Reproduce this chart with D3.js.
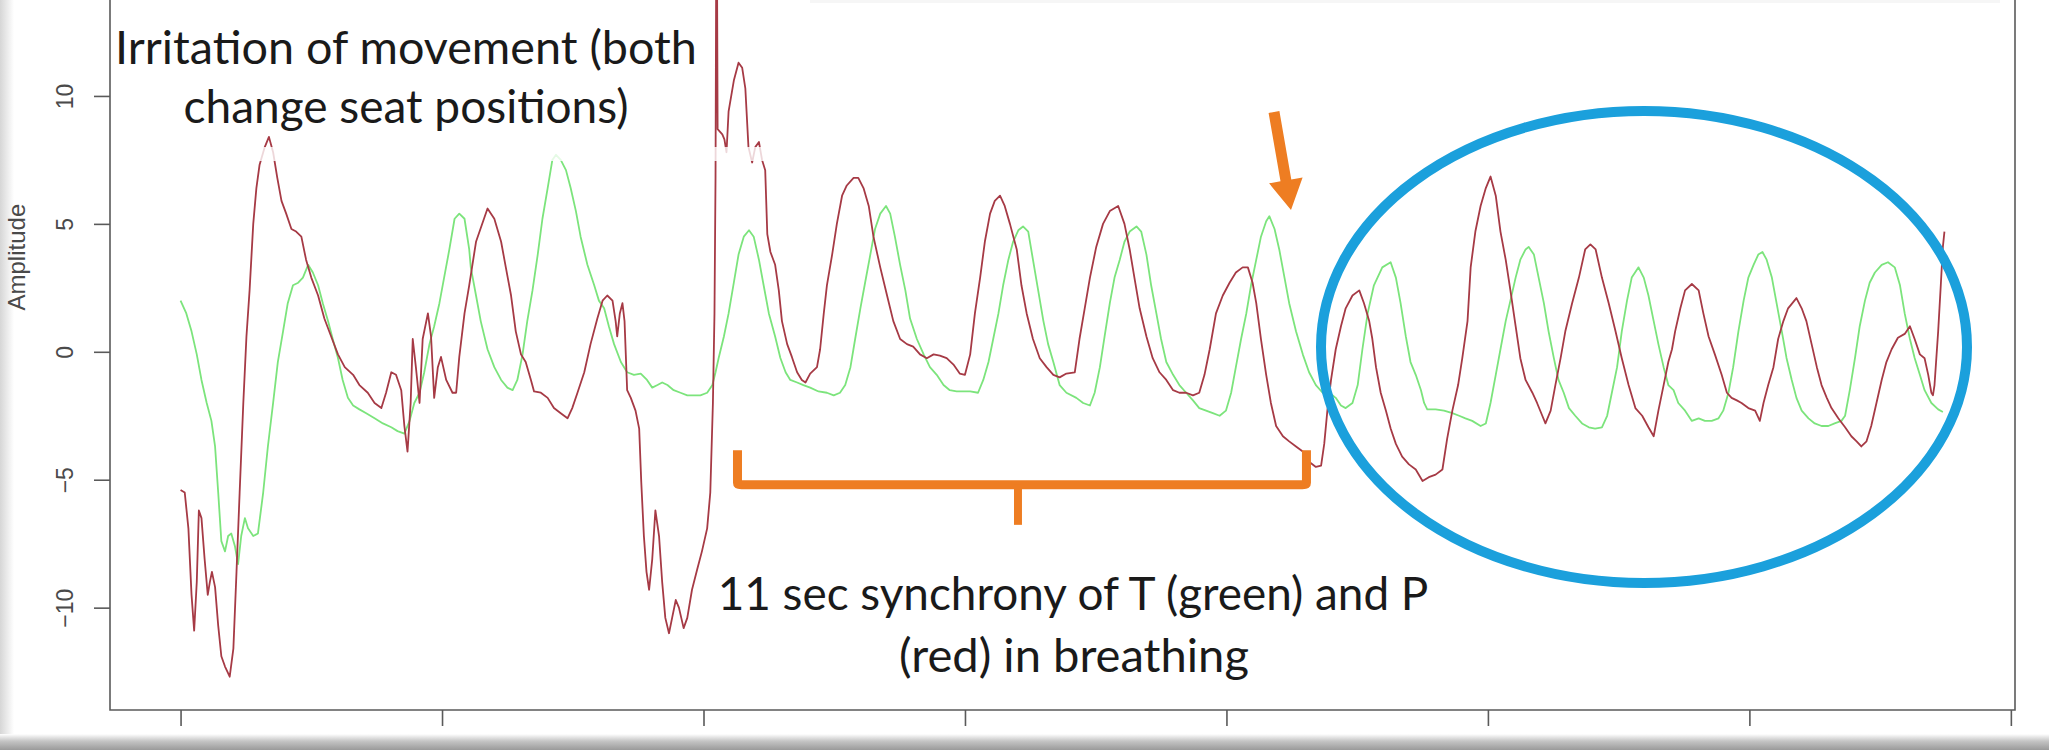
<!DOCTYPE html>
<html>
<head>
<meta charset="utf-8">
<script src="https://cdn.jsdelivr.net/npm/d3@7"></script>
<style>
  html, body { margin: 0; padding: 0; background: #fff; }
  svg { display: block; }
  .tick-label { font-family: "Liberation Sans", Arial, sans-serif; fill: #4a4a4a; }
  .note { font-family: Lato, "Open Sans", sans-serif; fill: #1a1a1a; }
</style>
</head>
<body>
<svg id="chart" width="2049" height="750"></svg>
<script>
// Breathing amplitude of T (green) and P (red), time in seconds
const xTicks = [0, 5, 10, 15, 20, 25, 30, 35];
const yTicks = [-10, -5, 0, 5, 10];
const yLabel = 'Amplitude';

// P (red): [time, amplitude]
const pSeries = [
  [0.00, -5.4], [0.08, -5.5], [0.15, -6.9], [0.21, -9.5], [0.26, -10.9], [0.31, -9.0], [0.35, -6.2],
  [0.40, -6.5], [0.46, -8.1], [0.52, -9.5], [0.56, -9.0], [0.60, -8.6], [0.66, -9.2], [0.72, -10.7],
  [0.78, -11.9], [0.85, -12.3], [0.94, -12.7], [1.01, -11.6], [1.07, -8.6], [1.13, -5.5], [1.20, -2.0],
  [1.26, 0.6], [1.32, 2.4], [1.39, 5.0], [1.45, 6.4], [1.51, 7.3], [1.61, 8.0], [1.69, 8.4], [1.77, 7.8],
  [1.85, 6.8], [1.93, 5.9], [2.02, 5.4], [2.12, 4.8], [2.21, 4.7], [2.31, 4.5], [2.40, 3.6], [2.50, 2.9],
  [2.63, 2.2], [2.75, 1.3], [2.88, 0.6], [3.01, -0.1], [3.14, -0.6], [3.30, -0.9], [3.42, -1.3],
  [3.58, -1.6], [3.71, -2.0], [3.84, -2.2], [3.93, -1.6], [4.03, -0.8], [4.12, -0.9], [4.22, -1.5],
  [4.28, -2.9], [4.34, -3.9], [4.40, -2.0], [4.44, 0.5], [4.50, -0.6], [4.57, -2.0], [4.63, 0.5],
  [4.73, 1.5], [4.79, 0.6], [4.85, -1.8], [4.92, -0.6], [4.98, -0.2], [5.08, -1.1], [5.20, -1.6],
  [5.27, -1.6], [5.33, -0.2], [5.43, 1.5], [5.52, 2.6], [5.65, 4.3], [5.87, 5.6], [6.00, 5.2],
  [6.13, 4.3], [6.22, 3.3], [6.32, 2.2], [6.41, 0.8], [6.51, -0.1], [6.60, -0.4], [6.70, -1.1],
  [6.76, -1.55], [6.89, -1.6], [7.02, -1.8], [7.14, -2.2], [7.27, -2.4], [7.40, -2.6], [7.49, -2.2],
  [7.59, -1.6], [7.72, -0.8], [7.84, 0.3], [7.97, 1.3], [8.07, 2.0], [8.16, 2.2], [8.26, 2.0],
  [8.32, 1.2], [8.35, 0.6], [8.40, 1.5], [8.45, 1.9], [8.49, 1.2], [8.54, -1.5], [8.61, -1.8],
  [8.70, -2.3], [8.77, -3.0], [8.81, -5.1], [8.86, -7.2], [8.91, -8.6], [8.96, -9.3], [9.02, -8.1],
  [9.08, -6.2], [9.15, -7.2], [9.21, -9.0], [9.27, -10.4], [9.34, -11.0], [9.40, -10.4], [9.47, -9.7],
  [9.53, -10.0], [9.62, -10.8], [9.69, -10.4], [9.78, -9.3], [9.88, -8.5], [9.97, -7.8], [10.07, -6.9],
  [10.13, -5.5], [10.18, -2.0], [10.21, 1.5], [10.23, 6.8], [10.25, 19.8], [10.27, 8.7], [10.36, 8.5],
  [10.40, 8.3], [10.44, 7.8], [10.48, 9.4], [10.58, 10.6], [10.67, 11.3], [10.74, 11.1], [10.80, 10.3],
  [10.86, 8.0], [10.93, 7.4], [10.99, 8.0], [11.06, 8.2], [11.12, 7.5], [11.18, 7.1], [11.22, 4.6],
  [11.28, 3.9], [11.37, 3.4], [11.44, 2.4], [11.50, 1.2], [11.60, 0.3], [11.69, -0.2], [11.79, -0.8],
  [11.88, -1.1], [11.95, -1.2], [12.04, -0.85], [12.17, -0.6], [12.23, 0.1], [12.30, 1.5], [12.36, 2.6],
  [12.46, 3.8], [12.55, 5.0], [12.65, 6.1], [12.74, 6.5], [12.87, 6.8], [12.96, 6.8], [13.06, 6.4],
  [13.16, 5.7], [13.25, 4.5], [13.38, 3.3], [13.51, 2.2], [13.63, 1.2], [13.76, 0.5], [13.89, 0.3],
  [14.01, 0.2], [14.14, -0.1], [14.27, -0.25], [14.40, -0.1], [14.52, -0.15], [14.65, -0.25],
  [14.78, -0.5], [14.90, -0.85], [15.00, -0.9], [15.10, -0.1], [15.19, 1.5], [15.29, 2.9], [15.38, 4.3],
  [15.48, 5.4], [15.57, 5.9], [15.67, 6.1], [15.76, 5.7], [15.86, 5.0], [15.99, 4.0], [16.08, 2.6],
  [16.18, 1.5], [16.30, 0.5], [16.43, -0.25], [16.56, -0.6], [16.69, -0.9], [16.81, -1.0], [16.94, -0.85],
  [17.10, -0.8], [17.19, 0.5], [17.29, 1.7], [17.39, 2.9], [17.51, 4.1], [17.64, 5.0], [17.77, 5.5],
  [17.93, 5.7], [18.05, 5.0], [18.15, 4.0], [18.24, 2.9], [18.34, 1.7], [18.47, 0.6], [18.59, -0.25],
  [18.72, -0.8], [18.85, -1.1], [18.98, -1.5], [19.10, -1.6], [19.23, -1.6], [19.36, -1.7], [19.48, -1.6],
  [19.58, -0.9], [19.68, 0.1], [19.80, 1.5], [19.93, 2.2], [20.06, 2.7], [20.18, 3.1], [20.31, 3.3],
  [20.41, 3.3], [20.50, 2.7], [20.57, 1.9], [20.66, 0.5], [20.76, -0.9], [20.85, -2.0], [20.95, -2.9],
  [21.08, -3.3], [21.20, -3.5], [21.33, -3.7], [21.46, -3.9], [21.58, -4.3], [21.71, -4.5], [21.81, -4.45],
  [21.87, -3.6], [21.93, -2.3], [22.00, -1.1], [22.09, 0.1], [22.19, 1.0], [22.28, 1.7], [22.41, 2.2],
  [22.54, 2.4], [22.63, 1.9], [22.73, 1.2], [22.79, 0.5], [22.86, -0.6], [22.95, -1.6], [23.05, -2.3],
  [23.14, -3.0], [23.24, -3.6], [23.36, -4.1], [23.49, -4.4], [23.62, -4.6], [23.75, -5.05], [23.87, -4.9],
  [24.00, -4.8], [24.13, -4.6], [24.22, -3.4], [24.32, -2.3], [24.43, -1.3], [24.51, -0.25], [24.61, 1.2],
  [24.67, 3.3], [24.76, 4.7], [24.86, 5.7], [24.96, 6.4], [25.05, 6.85], [25.15, 6.1], [25.24, 4.7],
  [25.34, 3.6], [25.43, 2.4], [25.53, 1.0], [25.62, -0.25], [25.72, -1.1], [25.85, -1.6], [25.94, -2.0],
  [26.04, -2.5], [26.10, -2.8], [26.20, -2.3], [26.29, -1.3], [26.39, -0.25], [26.48, 0.8], [26.61, 1.9],
  [26.74, 2.9], [26.86, 4.0], [26.96, 4.2], [27.06, 4.0], [27.18, 2.9], [27.31, 1.9], [27.44, 0.8],
  [27.56, -0.25], [27.69, -1.3], [27.82, -2.2], [27.95, -2.5], [28.07, -2.95], [28.17, -3.3], [28.26, -2.3],
  [28.36, -1.3], [28.45, -0.4], [28.52, 0.1], [28.58, 0.8], [28.68, 1.7], [28.77, 2.4], [28.90, 2.65],
  [29.03, 2.4], [29.12, 1.5], [29.22, 0.6], [29.34, -0.1], [29.47, -0.9], [29.57, -1.6], [29.66, -1.8],
  [29.76, -1.9], [29.85, -2.0], [29.98, -2.2], [30.11, -2.3], [30.20, -2.7], [30.27, -2.0], [30.36, -1.3],
  [30.46, -0.6], [30.55, 0.5], [30.65, 1.2], [30.74, 1.7], [30.90, 2.1], [31.00, 1.7], [31.09, 1.2],
  [31.19, 0.3], [31.29, -0.6], [31.38, -1.3], [31.48, -1.8], [31.57, -2.2], [31.70, -2.6], [31.83, -2.95],
  [31.95, -3.3], [32.05, -3.5], [32.14, -3.7], [32.24, -3.5], [32.33, -2.9], [32.43, -2.0], [32.53, -1.1],
  [32.62, -0.4], [32.72, 0.1], [32.84, 0.55], [32.97, 0.7], [33.07, 1.0], [33.16, 0.5], [33.26, -0.1],
  [33.35, -0.25], [33.42, -0.9], [33.48, -1.6], [33.51, -1.7], [33.54, -1.3], [33.61, 0.8], [33.66, 2.6],
  [33.70, 4.1], [33.73, 4.7],
];

// T (green): [time, amplitude]
const tSeries = [
  [0.00, 2.0], [0.11, 1.5], [0.21, 0.8], [0.31, -0.1], [0.40, -1.1], [0.50, -2.0], [0.59, -2.7],
  [0.66, -3.7], [0.72, -5.5], [0.78, -7.4], [0.85, -7.8], [0.91, -7.2], [0.97, -7.1], [1.04, -7.6],
  [1.10, -8.3], [1.16, -7.2], [1.23, -6.5], [1.29, -6.9], [1.39, -7.2], [1.48, -7.1], [1.58, -5.5],
  [1.67, -3.7], [1.77, -2.0], [1.86, -0.4], [1.96, 0.8], [2.05, 1.9], [2.15, 2.6], [2.25, 2.7],
  [2.34, 2.9], [2.44, 3.4], [2.53, 3.1], [2.63, 2.6], [2.72, 1.9], [2.82, 1.2], [2.91, 0.5], [3.01, -0.24],
  [3.10, -1.1], [3.20, -1.8], [3.30, -2.1], [3.42, -2.25], [3.55, -2.4], [3.71, -2.6], [3.87, -2.8],
  [4.03, -2.95], [4.15, -3.1], [4.28, -3.2], [4.38, -2.7], [4.47, -2.0], [4.57, -1.6], [4.66, -0.8],
  [4.76, 0.3], [4.85, 1.0], [4.95, 1.9], [5.04, 2.9], [5.14, 4.0], [5.24, 5.2], [5.33, 5.4], [5.43, 5.2],
  [5.52, 4.0], [5.55, 3.3], [5.65, 2.2], [5.74, 1.2], [5.87, 0.1], [6.00, -0.6], [6.13, -1.1],
  [6.25, -1.4], [6.35, -1.5], [6.44, -1.1], [6.54, -0.1], [6.63, 1.2], [6.73, 2.4], [6.83, 3.8],
  [6.92, 5.2], [7.02, 6.4], [7.11, 7.5], [7.18, 7.7], [7.27, 7.5], [7.37, 7.1], [7.46, 6.4], [7.56, 5.5],
  [7.65, 4.5], [7.78, 3.4], [7.91, 2.6], [8.00, 2.0], [8.10, 1.7], [8.19, 1.0], [8.29, 0.3], [8.42, -0.4],
  [8.54, -0.8], [8.67, -0.9], [8.80, -0.85], [8.92, -1.1], [9.02, -1.4], [9.12, -1.3], [9.21, -1.2],
  [9.31, -1.3], [9.43, -1.5], [9.56, -1.6], [9.69, -1.7], [9.82, -1.7], [9.94, -1.7], [10.07, -1.6],
  [10.17, -1.3], [10.23, -0.8], [10.29, -0.24], [10.39, 0.6], [10.48, 1.5], [10.58, 2.7], [10.67, 3.8],
  [10.77, 4.5], [10.87, 4.75], [10.96, 4.5], [11.06, 3.6], [11.15, 2.6], [11.25, 1.5], [11.37, 0.6],
  [11.47, -0.24], [11.57, -0.8], [11.66, -1.1], [11.79, -1.2], [11.91, -1.3], [12.04, -1.4],
  [12.20, -1.55], [12.36, -1.6], [12.49, -1.7], [12.61, -1.6], [12.71, -1.3], [12.81, -0.6], [12.90, 0.5],
  [13.00, 1.7], [13.09, 2.7], [13.19, 3.8], [13.28, 4.8], [13.38, 5.4], [13.49, 5.7], [13.57, 5.4],
  [13.66, 4.5], [13.76, 3.4], [13.86, 2.4], [13.95, 1.3], [14.08, 0.5], [14.21, -0.1], [14.33, -0.6],
  [14.46, -0.9], [14.59, -1.3], [14.71, -1.5], [14.84, -1.55], [14.97, -1.55], [15.10, -1.55],
  [15.25, -1.6], [15.35, -1.1], [15.45, -0.4], [15.54, 0.5], [15.64, 1.5], [15.73, 2.6], [15.83, 3.6],
  [15.92, 4.3], [16.02, 4.75], [16.11, 4.9], [16.21, 4.7], [16.30, 3.6], [16.40, 2.4], [16.50, 1.2],
  [16.59, 0.3], [16.69, -0.4], [16.81, -1.3], [16.94, -1.6], [17.13, -1.8], [17.26, -2.0], [17.39, -2.1],
  [17.48, -1.6], [17.58, -0.6], [17.67, 0.6], [17.77, 1.9], [17.86, 2.9], [17.96, 3.6], [18.05, 4.3],
  [18.15, 4.7], [18.28, 4.9], [18.37, 4.7], [18.47, 3.8], [18.56, 2.6], [18.66, 1.5], [18.75, 0.5],
  [18.85, -0.4], [18.98, -0.9], [19.10, -1.3], [19.23, -1.6], [19.36, -1.9], [19.48, -2.2], [19.61, -2.3],
  [19.74, -2.4], [19.87, -2.5], [19.99, -2.3], [20.09, -1.6], [20.18, -0.6], [20.28, 0.5], [20.38, 1.5],
  [20.47, 2.6], [20.57, 3.6], [20.66, 4.5], [20.76, 5.1], [20.82, 5.3], [20.92, 4.8], [21.01, 4.0],
  [21.11, 2.9], [21.20, 1.9], [21.33, 0.8], [21.46, -0.1], [21.58, -0.8], [21.71, -1.3], [21.84, -1.6],
  [21.97, -1.6], [22.09, -1.8], [22.19, -2.1], [22.28, -2.2], [22.41, -2.0], [22.51, -1.3], [22.60, 0.1],
  [22.70, 1.5], [22.82, 2.6], [22.98, 3.3], [23.14, 3.5], [23.24, 2.9], [23.33, 1.9], [23.43, 0.6],
  [23.52, -0.4], [23.62, -0.9], [23.72, -1.5], [23.78, -2.0], [23.84, -2.25], [24.00, -2.25], [24.16, -2.3],
  [24.32, -2.4], [24.45, -2.5], [24.57, -2.6], [24.70, -2.7], [24.86, -2.9], [24.96, -2.8], [25.05, -2.0],
  [25.15, -0.9], [25.24, 0.1], [25.34, 1.2], [25.43, 2.0], [25.53, 2.9], [25.62, 3.6], [25.72, 4.0],
  [25.78, 4.1], [25.88, 3.8], [25.97, 2.9], [26.07, 1.9], [26.16, 0.8], [26.26, -0.24], [26.35, -1.1],
  [26.45, -1.6], [26.55, -2.2], [26.67, -2.5], [26.80, -2.8], [26.93, -2.95], [27.05, -3.0], [27.18, -2.95],
  [27.28, -2.5], [27.37, -1.6], [27.47, -0.6], [27.56, 0.8], [27.66, 2.0], [27.75, 2.9], [27.88, 3.3],
  [27.98, 2.9], [28.07, 2.2], [28.17, 1.2], [28.26, 0.3], [28.36, -0.6], [28.45, -1.3], [28.55, -1.5],
  [28.64, -2.0], [28.77, -2.3], [28.90, -2.7], [29.03, -2.6], [29.15, -2.7], [29.28, -2.7], [29.41, -2.6],
  [29.50, -2.3], [29.60, -1.6], [29.69, -0.6], [29.79, 0.8], [29.89, 2.0], [29.98, 2.9], [30.08, 3.4],
  [30.17, 3.8], [30.25, 3.9], [30.33, 3.6], [30.43, 2.9], [30.52, 1.9], [30.62, 0.8], [30.71, -0.24],
  [30.81, -1.1], [30.90, -1.8], [31.00, -2.3], [31.13, -2.6], [31.25, -2.8], [31.38, -2.9], [31.51, -2.9],
  [31.63, -2.8], [31.76, -2.7], [31.83, -2.5], [31.92, -1.5], [32.02, -0.24], [32.11, 1.0], [32.21, 2.0],
  [32.30, 2.7], [32.40, 3.1], [32.53, 3.4], [32.65, 3.5], [32.78, 3.3], [32.88, 2.6], [32.97, 1.5],
  [33.07, 0.5], [33.16, -0.24], [33.26, -0.9], [33.35, -1.5], [33.48, -2.0], [33.61, -2.25], [33.70, -2.35],
];

const width = 2049;
const height = 750;

// Plot box (the top of the original plot region is cropped away)
const box = {left: 110, right: 2015, bottom: 710, top: 0};

const svg = d3.select('#chart');

// Page shadow left and bottom
const defs = svg.append('defs');
const shadowBottom = defs.append('linearGradient')
  .attr('id', 'shadow-bottom').attr('x1', 0).attr('y1', 0).attr('x2', 0).attr('y2', 1);
shadowBottom.append('stop').attr('offset', '0%').attr('stop-color', '#ffffff');
shadowBottom.append('stop').attr('offset', '45%').attr('stop-color', '#c4c4c4');
shadowBottom.append('stop').attr('offset', '100%').attr('stop-color', '#9a9a9a');
const shadowLeft = defs.append('linearGradient')
  .attr('id', 'shadow-left').attr('x1', 0).attr('y1', 0).attr('x2', 1).attr('y2', 0);
shadowLeft.append('stop').attr('offset', '0%').attr('stop-color', '#d6d6d6');
shadowLeft.append('stop').attr('offset', '100%').attr('stop-color', '#ffffff');
defs.append('clipPath').attr('id', 'plot-clip')
  .append('rect')
  .attr('x', box.left).attr('y', -400)
  .attr('width', box.right - box.left).attr('height', box.bottom + 400);

svg.append('rect').attr('width', width).attr('height', height).attr('fill', '#ffffff');
svg.append('rect')
  .attr('x', 0).attr('y', 0).attr('width', 14).attr('height', 738)
  .attr('fill', 'url(#shadow-left)');

// Scales (R style: 4% padding round the data range)
const tMax = d3.max(pSeries, (d) => d[0]);
const x = d3.scaleLinear()
  .domain([-0.04 * tMax, 1.04 * tMax])
  .range([box.left, box.right]);
const y = d3.scaleLinear()
  .domain([-14, 13.75])
  .range([box.bottom, box.top]);

// Series
const line = d3.line()
  .x((d) => x(d[0]))
  .y((d) => y(d[1]));

const series = svg.append('g').attr('clip-path', 'url(#plot-clip)');
series.append('path')
  .datum(tSeries)
  .attr('fill', 'none')
  .attr('stroke', '#7ce47c')
  .attr('stroke-width', 1.8)
  .attr('stroke-linejoin', 'round')
  .attr('d', line);
series.append('path')
  .datum(pSeries)
  .attr('fill', 'none')
  .attr('stroke', '#a63a45')
  .attr('stroke-width', 1.8)
  .attr('stroke-linejoin', 'round')
  .attr('d', line);

// Faint white strip left by the pasted text box
svg.append('rect')
  .attr('x', 94).attr('y', 147).attr('width', 676).attr('height', 14)
  .attr('fill', '#ffffff').attr('opacity', 0.8);
svg.append('rect')
  .attr('x', 810).attr('y', 0).attr('width', 1190).attr('height', 3)
  .attr('fill', '#f6f6f6');

// Box
svg.append('path')
  .attr('d', `M${box.left},${box.top}V${box.bottom}H${box.right}V${box.top}`)
  .attr('fill', 'none')
  .attr('stroke', '#5a5a5a')
  .attr('stroke-width', 1.6);

// Y axis
const yAxis = svg.append('g')
  .attr('transform', `translate(${box.left},0)`)
  .call(d3.axisLeft(y).tickValues(yTicks).tickSize(16).tickFormat(d3.format('d')));
yAxis.select('.domain').remove();
yAxis.selectAll('.tick line').attr('stroke', '#5a5a5a').attr('stroke-width', 1.6);
yAxis.selectAll('.tick text')
  .attr('class', 'tick-label')
  .attr('font-size', 23)
  .attr('x', null)
  .attr('dy', null)
  .attr('text-anchor', 'middle')
  .attr('transform', 'translate(-37,0) rotate(-90)');

svg.append('text')
  .attr('class', 'tick-label')
  .attr('font-size', 24)
  .attr('text-anchor', 'middle')
  .attr('transform', `translate(25,${y(3.7)}) rotate(-90)`)
  .attr('fill', '#666')
  .text(yLabel);

// X axis (tick labels are cropped away in the original)
const xAxis = svg.append('g')
  .attr('transform', `translate(0,${box.bottom})`)
  .call(d3.axisBottom(x).tickValues(xTicks).tickSize(16).tickFormat(''));
xAxis.select('.domain').remove();
xAxis.selectAll('.tick line').attr('stroke', '#5a5a5a').attr('stroke-width', 1.6);

// Annotations
const orange = '#ee7d22';

function fitText(sel, target) {
  const w = sel.node().getComputedTextLength();
  const size = parseFloat(sel.attr('font-size'));
  sel.attr('font-size', size * target / w);
}

const notes = [
  {text: 'Irritation of movement (both', cx: 406, base: 64, w: 582},
  {text: 'change seat positions)', cx: 406, base: 123, w: 445},
  {text: '11 sec synchrony of T (green) and P', cx: 1073, base: 610, w: 711},
  {text: '(red) in breathing', cx: 1074, base: 672, w: 350},
];
notes.forEach((n) => {
  const t = svg.append('text')
    .attr('class', 'note')
    .attr('x', n.cx)
    .attr('y', n.base)
    .attr('font-size', 42)
    .attr('text-anchor', 'middle')
    .text(n.text);
  fitText(t, n.w);
});

// Bracket over the 11 sec window
const b0 = x(10.65);
const b1 = x(21.53);
const bMid = (b0 + b1) / 2 - 4;
const bY = y(-5.2);
svg.append('path')
  .attr('d', `M${b0},${y(-3.85)}V${bY - 2}Q${b0},${bY} ${b0 + 4},${bY}H${b1 - 4}Q${b1},${bY} ${b1},${bY - 2}V${y(-3.85)}`)
  .attr('fill', 'none')
  .attr('stroke', orange)
  .attr('stroke-width', 9);
svg.append('path')
  .attr('d', `M${bMid - 4},${bY}L${bMid - 4},${bY + 40}L${bMid + 4},${bY + 40}L${bMid + 4},${bY}Z`)
  .attr('fill', orange);

// Arrow pointing at the green peak
svg.append('polygon')
  .attr('points', [
    [1279.4, 111.1], [1291.3, 179.5], [1302.6, 177.5], [1291, 210],
    [1269.1, 183.3], [1280.5, 181.3], [1268.6, 112.9],
  ].map((p) => p.join(',')).join(' '))
  .attr('fill', orange);

// Ellipse round the later part
svg.append('ellipse')
  .attr('cx', 1644)
  .attr('cy', 347)
  .attr('rx', 323)
  .attr('ry', 236)
  .attr('fill', 'none')
  .attr('stroke', '#1ba0dc')
  .attr('stroke-width', 10);

svg.append('rect')
  .attr('x', 0).attr('y', 734).attr('width', width).attr('height', 16)
  .attr('fill', 'url(#shadow-bottom)');
</script>
</body>
</html>
